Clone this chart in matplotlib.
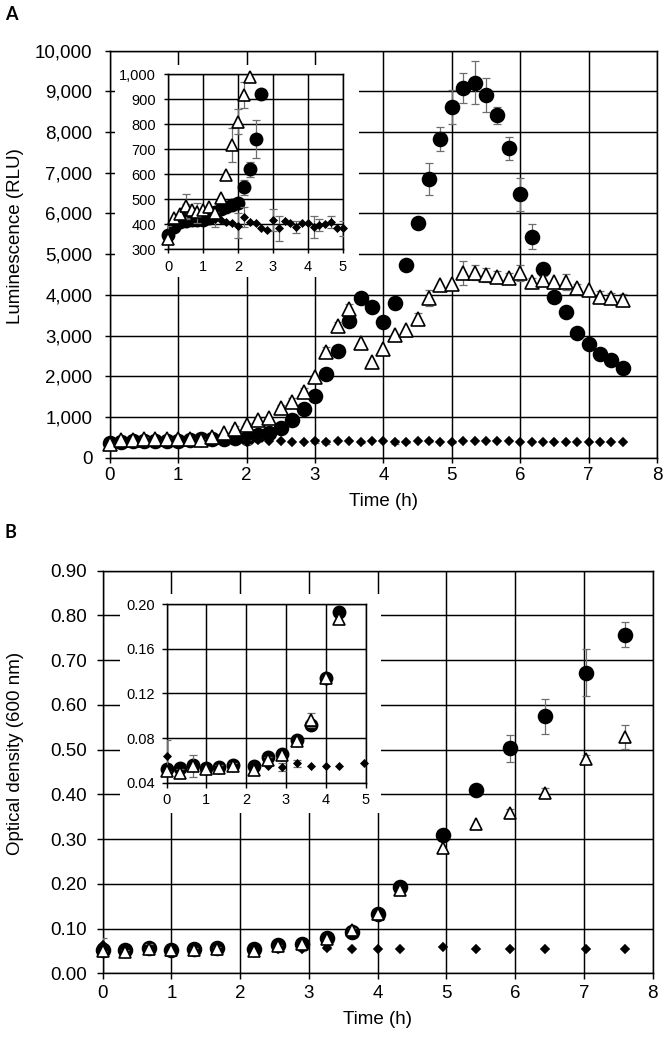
import numpy as np
import matplotlib
matplotlib.use("Agg")
import matplotlib.pyplot as plt
from matplotlib.patches import Rectangle
from matplotlib.ticker import FuncFormatter, MultipleLocator

plt.rcParams["font.family"] = ["Liberation Sans", "DejaVu Sans"]

# ---- Panel A: luminescence, one reading every 10 min ----
lum_minutes = [0, 10, 20, 30, 40, 50, 60, 70, 80, 90, 100, 110, 120, 130, 140, 150,
               160, 170, 180, 190, 200, 210, 220, 230, 240, 250, 260, 270, 280, 290,
               300, 310, 320, 330, 340, 350, 360, 370, 380, 390, 400, 410, 420, 430,
               440, 450]
lum_circle = [356, 389, 409, 412, 415, 418, 418, 425, 450, 460, 468, 478, 485, 547, 620,
              740, 920, 1196, 1523, 2057, 2630, 3367, 3931, 3710, 3326, 3808, 4735, 5774,
              6848, 7823, 8624, 9083, 9214, 8912, 8412, 7602, 6472, 5430, 4629, 3956, 3572,
              3056, 2786, 2548, 2400, 2196]
lum_circle_err = [0, 0, 0, 0, 0, 0, 0, 0, 0, 0, 0, 0, 0, 30, 30, 76, 0, 0, 0, 0, 0, 0, 0,
                  0, 0, 0, 0, 0, 385, 295, 420, 380, 525, 420, 210, 287, 400, 300, 150, 0,
                  0, 0, 0, 0, 0, 0]
lum_triangle = [340, 424, 440, 473, 456, 449, 455, 469, 443, 503, 596, 716, 809, 916, 987,
                1213, 1377, 1622, 1990, 2590, 3236, 3653, 2810, 2344, 2671, 3007, 3137, 3400,
                3916, 4243, 4268, 4546, 4546, 4489, 4447, 4407, 4530, 4325, 4366, 4325, 4325,
                4162, 4120, 3956, 3916, 3875]
lum_triangle_err = [0, 0, 0, 47, 0, 0, 0, 0, 0, 0, 0, 67, 50, 53, 0, 80, 90, 100, 0, 120,
                    110, 120, 0, 0, 0, 0, 0, 150, 200, 0, 0, 295, 190, 170, 150, 120, 200,
                    100, 110, 0, 200, 100, 0, 150, 120, 150]
lum_diamond = [363, 400, 436, 449, 456, 444, 450, 440, 420, 415, 410, 405, 393, 429, 409,
               403, 383, 376, 416, 383, 413, 403, 389, 403, 405, 389, 396, 400, 409, 383, 383,
               420, 410, 405, 405, 405, 395, 395, 385, 395, 395, 395, 388, 395, 395, 388]
lum_diamond_err = [30, 0, 0, 30, 0, 40, 0, 0, 30, 0, 0, 0, 50, 40, 0, 0, 0, 0, 45, 50, 0, 0,
                   25, 0, 0, 45, 25, 0, 25, 0, 30, 0, 0, 0, 0, 0, 0, 0, 0, 0, 0, 0, 0, 0, 0, 0]

# ---- Panel B: optical density ----
od_time = [0, 0.33, 0.67, 1.0, 1.33, 1.67, 2.2, 2.55, 2.9, 3.27, 3.63, 4.0, 4.33, 4.95,
           5.43, 5.92, 6.43, 7.03, 7.6]
od_circle = [0.052, 0.053, 0.0556, 0.053, 0.0544, 0.0556, 0.055, 0.0626, 0.0655, 0.078,
             0.092, 0.1335, 0.193, 0.309, 0.410, 0.503, 0.574, 0.672, 0.757]
od_circle_err = [0, 0, 0, 0, 0, 0, 0, 0, 0, 0, 0, 0, 0, 0, 0.01, 0.03, 0.039, 0.052, 0.028]
od_triangle = [0.050, 0.0485, 0.055, 0.052, 0.053, 0.055, 0.051, 0.060, 0.0648, 0.077,
               0.096, 0.1335, 0.187, 0.280, 0.333, 0.358, 0.403, 0.479, 0.529]
od_triangle_err = [0, 0.004, 0.01, 0, 0.003, 0.003, 0, 0.003, 0, 0, 0.006, 0, 0, 0, 0,
                   0.01, 0.012, 0.01, 0.027]
od_diamond = [0.064, 0.052, 0.054, 0.052, 0.054, 0.054, 0.053, 0.055, 0.054, 0.0574, 0.0552,
              0.055, 0.055, 0.058, 0.054, 0.054, 0.054, 0.054, 0.054]
od_diamond_err = [0.014, 0, 0, 0, 0, 0, 0, 0, 0.004, 0.003, 0, 0, 0, 0, 0, 0, 0, 0, 0]

ERR_GRAY = "#6e6e6e"


def draw(ax, x, y, err, marker, ms, face, z, xmax=None, ymax=None):
    x, y, err = np.asarray(x, float), np.asarray(y, float), np.asarray(err, float)
    if xmax is not None:
        keep = (x <= xmax) & (y <= ymax)
        x, y, err = x[keep], y[keep], err[keep]
    e = err > 0
    if e.any():
        ax.errorbar(x[e], y[e], yerr=err[e], fmt="none", ecolor=ERR_GRAY,
                    elinewidth=0.9, capsize=2.6, capthick=0.9, zorder=z - 0.5)
    ax.plot(x, y, linestyle="none", marker=marker, ms=ms, mfc=face, mec="black",
            mew=1.2, zorder=z, clip_on=False)


def style(ax, xmax, ylim, ystep, fmt, size, padx, pady, tlen):
    ax.set_xlim(0, xmax)
    ax.set_ylim(*ylim)
    ax.xaxis.set_major_locator(MultipleLocator(1))
    ax.yaxis.set_major_locator(MultipleLocator(ystep))
    ax.yaxis.set_major_formatter(FuncFormatter(fmt))
    ax.grid(True, color="black", linewidth=1.05)
    ax.set_axisbelow(True)
    for s in ax.spines.values():
        s.set_linewidth(1.05)
        s.set_color("black")
    ax.tick_params(direction="out", length=tlen, width=1.05, labelsize=size, colors="black")
    ax.tick_params(axis="x", pad=padx)
    ax.tick_params(axis="y", pad=pady)


fmt_comma = lambda v, p: f"{v:,.0f}"
fmt_2 = lambda v, p: f"{v:.2f}"

fig = plt.figure(figsize=(6.66, 10.38), dpi=100)

# Panel A
lum_time = np.asarray(lum_minutes) / 60
ax_a = fig.add_axes([0.165, 0.559, 0.8213, 0.3922])
style(ax_a, 8, (0, 10000), 1000, fmt_comma, 13.5, 3.0, 9.0, 3.6)
draw(ax_a, lum_time, lum_circle, lum_circle_err, "o", 10, "black", 3)
draw(ax_a, lum_time, lum_diamond, lum_diamond_err, "D", 3.8, "black", 4)
draw(ax_a, lum_time, lum_triangle, lum_triangle_err, "^", 9.5, "white", 5)
ax_a.set_xlabel("Time (h)", fontsize=13.5)
ax_a.xaxis.set_label_coords(0.5, -0.0877)
ax_a.set_ylabel("Luminescence (RLU)", fontsize=13.5)
ax_a.yaxis.set_label_coords(-0.157, 0.545)

fig.add_artist(Rectangle((0.1727, 0.733), 0.366, 0.204, transform=fig.transFigure,
                         facecolor="white", edgecolor="none", zorder=1))
ins_a = fig.add_axes([0.2527, 0.760, 0.2619, 0.1686], zorder=2)
style(ins_a, 5, (300, 1000), 100, fmt_comma, 10.5, 4.5, 5.5, 3.2)
draw(ins_a, lum_time, lum_circle, lum_circle_err, "o", 8.8, "black", 3, 5, 1000)
draw(ins_a, lum_time, lum_diamond, lum_diamond_err, "D", 3.4, "black", 4, 5, 1000)
draw(ins_a, lum_time, lum_triangle, lum_triangle_err, "^", 8.6, "white", 5, 5, 1000)

# Panel B
ax_b = fig.add_axes([0.154, 0.0623, 0.826, 0.388])
style(ax_b, 8, (0, 0.9), 0.1, fmt_2, 13.5, 4.3, 7.2, 4.1)
draw(ax_b, od_time, od_circle, od_circle_err, "o", 10, "black", 3)
draw(ax_b, od_time, od_diamond, od_diamond_err, "D", 3.6, "black", 4)
draw(ax_b, od_time, od_triangle, od_triangle_err, "^", 9, "white", 5)
ax_b.set_xlabel("Time (h)", fontsize=13.5)
ax_b.xaxis.set_label_coords(0.5, -0.0946)
ax_b.set_ylabel("Optical density (600 nm)", fontsize=13.5)
ax_b.yaxis.set_label_coords(-0.143, 0.545)

fig.add_artist(Rectangle((0.180, 0.2168), 0.392, 0.211, transform=fig.transFigure,
                         facecolor="white", edgecolor="none", zorder=1))
ins_b = fig.add_axes([0.250, 0.246, 0.299, 0.172], zorder=2)
style(ins_b, 5, (0.04, 0.20), 0.04, fmt_2, 10.5, 3.6, 5.0, 3.6)
draw(ins_b, od_time, od_circle, od_circle_err, "o", 8.8, "black", 3, 5, 0.2)
draw(ins_b, od_time, od_diamond, od_diamond_err, "D", 3.4, "black", 4, 5, 0.2)
draw(ins_b, od_time, od_triangle, od_triangle_err, "^", 8, "white", 5, 5, 0.2)

fig.text(11 / 666, 1 - 14 / 1038, "A", fontsize=13, fontweight="bold",
         ha="center", va="center", family=["Lato", "DejaVu Sans"])
fig.text(10 / 666, 1 - 532 / 1038, "B", fontsize=13, fontweight="bold",
         ha="center", va="center", family=["Lato", "DejaVu Sans"])

fig.savefig("out.png", dpi=100)
